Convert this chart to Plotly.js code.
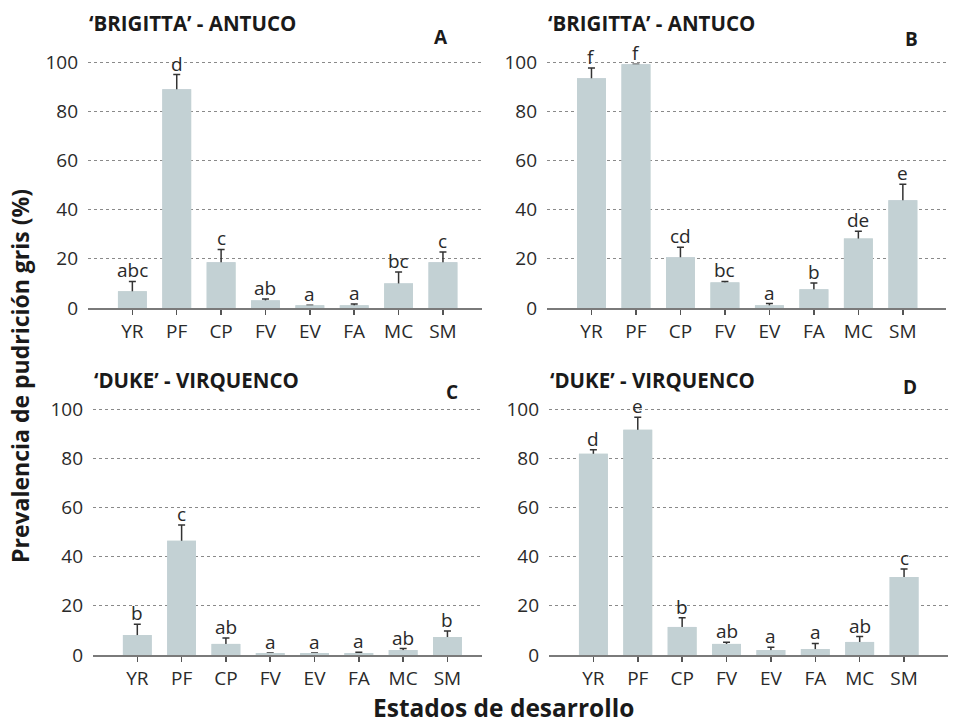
<!DOCTYPE html>
<html><head><meta charset="utf-8">
<script src="https://cdn.plot.ly/plotly-3.0.1.min.js"></script>
<style>html,body{margin:0;padding:0;background:#fff}#chart{width:960px;height:724px}</style>
</head><body><div id="chart"></div>
<script>
const categories = ["YR","PF","CP","FV","EV","FA","MC","SM"];
const yTicks = [0,20,40,60,80,100];

const valuesA = [6.8, 88.9, 18.6, 3.1, 1.1, 1.1, 10.0, 18.6];
const errorsA = [4.0, 6.0, 5.2, 0.6, 0.0, 0.5, 4.6, 4.2];
const lettersA = ["abc","d","c","ab","a","a","bc","c"];

const valuesB = [93.4, 99.1, 20.6, 10.4, 1.1, 7.6, 28.3, 43.8];
const errorsB = [4.2, 0.0, 4.1, 0.4, 0.7, 2.6, 2.9, 6.5];
const lettersB = ["f","f","cd","bc","a","b","de","e"];

const valuesC = [8.1, 46.4, 4.5, 0.8, 0.8, 0.8, 2.0, 7.3];
const errorsC = [4.4, 6.4, 2.4, 0.0, 0.0, 0.3, 0.6, 2.5];
const lettersC = ["b","c","ab","a","a","a","ab","b"];

const valuesD = [81.8, 91.6, 11.4, 4.5, 2.0, 2.4, 5.3, 31.7];
const errorsD = [1.6, 5.0, 3.7, 0.7, 1.1, 2.3, 2.2, 3.3];
const lettersD = ["d","e","b","ab","a","a","ab","c"];

const panelTitles = ["‘BRIGITTA’ - ANTUCO","‘BRIGITTA’ - ANTUCO","‘DUKE’ - VIRQUENCO","‘DUKE’ - VIRQUENCO"];
const panelLetters = ["A","B","C","D"];
const yTitle = "Prevalencia de pudrición gris (%)";
const xTitle = "Estados de desarrollo";

const W = 960, H = 724;
const FONT = "'Open Sans', Lato, sans-serif";
const barColor = "#c3d1d4";
const textColor = "#2a2a2a";

const panels = [
  {v: valuesA, e: errorsA, l: lettersA, x0: 88, x1: 482, yTop: 62, yBot: 308, xr: [-1, 7.88], tx: 88, ty: 23, lx: 441, ly: 37},
  {v: valuesB, e: errorsB, l: lettersB, x0: 547, x1: 946, yTop: 62, yBot: 308, xr: [-1, 7.97], tx: 547, ty: 23, lx: 911, ly: 39},
  {v: valuesC, e: errorsC, l: lettersC, x0: 93, x1: 482, yTop: 409, yBot: 655, xr: [-1, 7.78], tx: 93, ty: 380, lx: 452, ly: 392},
  {v: valuesD, e: errorsD, l: lettersD, x0: 549, x1: 948, yTop: 409, yBot: 655, xr: [-1, 7.99], tx: 549, ty: 380, lx: 910, ly: 387}
];

const traces = [];
const annotations = [];
const layout = {
  width: W, height: H,
  margin: {l:0, r:0, t:0, b:0},
  paper_bgcolor: "#fff", plot_bgcolor: "#fff",
  showlegend: false,
  font: {family: FONT, color: textColor},
  barmode: "overlay",
  bargap: 0.35
};

const yMax = 102;
panels.forEach((p, i) => {
  const n = i + 1;
  const xa = n === 1 ? "x" : "x" + n;
  const ya = n === 1 ? "y" : "y" + n;
  const pxPerUnit = (p.yBot - p.yTop) / 100;
  const topPx = p.yBot - yMax * pxPerUnit;
  // bars with symmetric error bars; lower half hidden by the overlaid bar trace
  traces.push({
    type: "bar", x: categories, y: p.v, xaxis: xa, yaxis: ya,
    marker: {color: barColor, line: {width: 0}},
    error_y: {type: "data", symmetric: true, array: p.e,
              color: "#333", thickness: 1.5, width: 3.5},
    hoverinfo: "skip"
  });
  traces.push({
    type: "bar", x: categories, y: p.v, xaxis: xa, yaxis: ya,
    marker: {color: barColor, line: {width: 0}},
    hoverinfo: "skip"
  });
  layout["xaxis" + (n === 1 ? "" : n)] = {
    domain: [p.x0 / W, p.x1 / W], anchor: ya, type: "category",
    categoryorder: "array", categoryarray: categories,
    range: p.xr, showgrid: false, zeroline: false,
    showline: true, linecolor: "#7a7a7a", linewidth: 2,
    ticks: "outside", ticklen: 5, tickwidth: 1.5, tickcolor: "#555",
    tickfont: {family: FONT, size: 19, color: textColor}, fixedrange: true
  };
  layout["yaxis" + (n === 1 ? "" : n)] = {
    domain: [1 - p.yBot / H, 1 - topPx / H], anchor: xa,
    range: [0, yMax], tickvals: yTicks, ticktext: yTicks.map(String),
    showgrid: true, gridcolor: "#8a8a8a", griddash: "dot", gridwidth: 1,
    zeroline: false, showline: false, ticks: "",
    ticklabelstandoff: 9,
    tickfont: {family: FONT, size: 19, color: textColor}, fixedrange: true
  };
  categories.forEach((c, k) => {
    annotations.push({
      xref: xa, yref: ya, x: c, y: p.v[k] + p.e[k], text: p.l[k],
      showarrow: false, yanchor: "bottom", yshift: -3, borderpad: 0,
      font: {family: FONT, size: 19, color: textColor}
    });
  });
  annotations.push({
    xref: "paper", yref: "paper", x: p.tx / W, y: 1 - p.ty / H, text: panelTitles[i],
    showarrow: false, xanchor: "left", yanchor: "middle", borderpad: 0,
    font: {family: FONT, size: 20.5, color: "#1a1a1a", weight: "bold"}
  });
  annotations.push({
    xref: "paper", yref: "paper", x: p.lx / W, y: 1 - p.ly / H, text: panelLetters[i],
    showarrow: false, xanchor: "center", yanchor: "middle",
    font: {family: FONT, size: 19, color: "#1a1a1a", weight: "bold"}
  });
});

annotations.push({
  xref: "paper", yref: "paper", x: 20 / W, y: 1 - 376 / H, text: yTitle,
  showarrow: false, textangle: -90, xanchor: "center", yanchor: "middle",
  font: {family: FONT, size: 23, color: "#1a1a1a", weight: "bold"}
});
annotations.push({
  xref: "paper", yref: "paper", x: 503 / W, y: 1 - 707 / H, text: xTitle,
  showarrow: false, xanchor: "center", yanchor: "middle",
  font: {family: FONT, size: 24.5, color: "#1a1a1a", weight: "bold"}
});
layout.annotations = annotations;

Plotly.newPlot("chart", traces, layout, {displayModeBar: false, staticPlot: true});
</script>
</body></html>
